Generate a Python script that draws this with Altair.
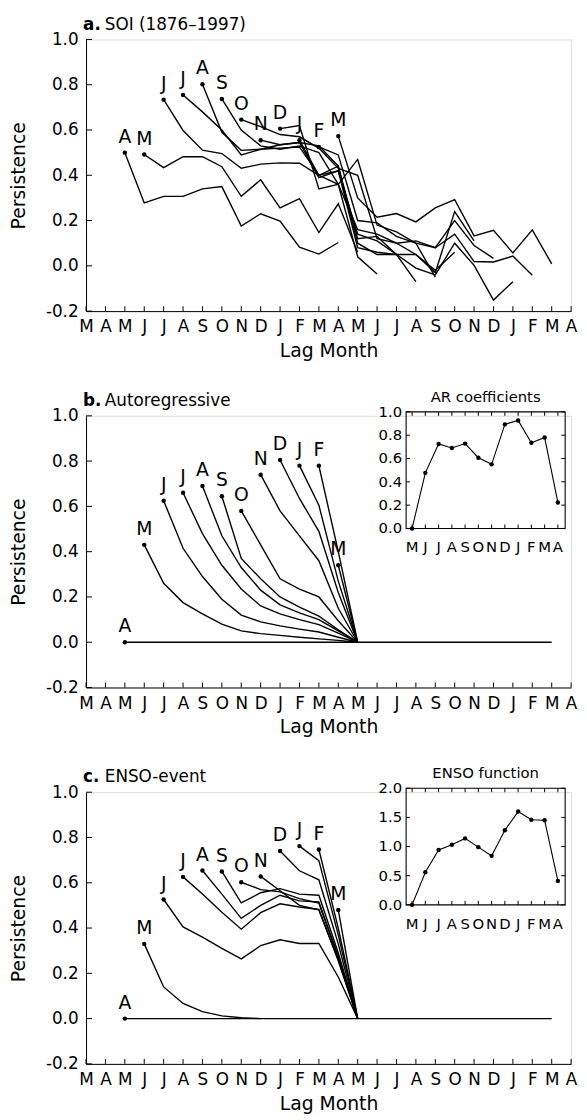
import json
import altair as alt
import pandas as pd

# ---------------- data ----------------
MONTHS = ["M", "A", "M", "J", "J", "A", "S", "O", "N", "D", "J", "F", "M",
          "A", "M", "J", "J", "A", "S", "O", "N", "D", "J", "F", "M", "A"]
Y_TICKS = [-0.2, 0.0, 0.2, 0.4, 0.6, 0.8, 1.0]
START_LABELS = ["A", "M", "J", "J", "A", "S", "O", "N", "D", "J", "F", "M"]
START_POS = [2, 3, 4, 5, 6, 7, 8, 9, 10, 11, 12, 13]

SOI = [
    [0.50, 0.278, 0.307, 0.307, 0.34, 0.35, 0.176, 0.23, 0.198, 0.082, 0.052, 0.103],
    [0.492, 0.434, 0.482, 0.482, 0.438, 0.307, 0.38, 0.256, 0.297, 0.147, 0.274, 0.06],
    [0.734, 0.598, 0.511, 0.496, 0.431, 0.449, 0.455, 0.453, 0.40, 0.36, 0.04, -0.036],
    [0.755, 0.68, 0.60, 0.49, 0.515, 0.535, 0.545, 0.53, 0.44, 0.12, 0.13, 0.05],
    [0.802, 0.59, 0.51, 0.515, 0.52, 0.525, 0.40, 0.42, 0.14, 0.11, 0.05, -0.07],
    [0.737, 0.60, 0.53, 0.515, 0.53, 0.50, 0.36, 0.47, 0.18, 0.15, 0.10, -0.05],
    [0.646, 0.615, 0.58, 0.57, 0.52, 0.43, 0.40, 0.12, 0.10, 0.05, -0.02, 0.06],
    [0.555, 0.535, 0.545, 0.39, 0.42, 0.08, 0.06, 0.05, 0.05, -0.03, 0.24, 0.11],
    [0.606, 0.62, 0.34, 0.36, 0.16, 0.14, 0.10, 0.11, 0.08, 0.20, 0.09, 0.033],
    [0.555, 0.40, 0.44, 0.10, 0.05, 0.05, -0.01, -0.04, 0.10, 0.002, -0.151, -0.07],
    [0.525, 0.49, 0.20, 0.19, 0.13, 0.10, 0.08, 0.14, 0.019, 0.017, 0.043, -0.042],
    [0.573, 0.30, 0.215, 0.231, 0.194, 0.256, 0.292, 0.132, 0.157, 0.057, 0.159, 0.009],
]

AR_LINES = [
    [0.0, 0.0, 0.0, 0.0, 0.0, 0.0, 0.0, 0.0, 0.0, 0.0, 0.0, 0.0,
     0.0, 0.0, 0.0, 0.0, 0.0, 0.0, 0.0, 0.0, 0.0, 0.0, 0.0],
    [0.43, 0.26, 0.175, 0.125, 0.08, 0.05, 0.038, 0.03, 0.022, 0.015, 0.008, 0.0],
    [0.625, 0.415, 0.29, 0.19, 0.12, 0.09, 0.072, 0.058, 0.045, 0.022, 0.0],
    [0.66, 0.48, 0.34, 0.235, 0.16, 0.125, 0.10, 0.078, 0.04, 0.0],
    [0.69, 0.47, 0.33, 0.23, 0.165, 0.13, 0.10, 0.05, 0.0],
    [0.645, 0.37, 0.28, 0.20, 0.155, 0.115, 0.055, 0.0],
    [0.58, 0.43, 0.28, 0.235, 0.20, 0.095, 0.0],
    [0.74, 0.58, 0.47, 0.36, 0.15, 0.0],
    [0.805, 0.635, 0.49, 0.22, 0.0],
    [0.78, 0.605, 0.27, 0.0],
    [0.78, 0.40, 0.0],
    [0.34, 0.0],
]

ENSO_LINES = [
    [0.0, 0.0, 0.0, 0.0, 0.0, 0.0, 0.0, 0.0, 0.0, 0.0, 0.0, 0.0,
     0.0, 0.0, 0.0, 0.0, 0.0, 0.0, 0.0, 0.0, 0.0, 0.0, 0.0],
    [0.33, 0.14, 0.067, 0.031, 0.012, 0.004, 0.0],
    [0.526, 0.405, 0.36, 0.31, 0.264, 0.322, 0.348, 0.332, 0.332, 0.184, 0.0],
    [0.626, 0.55, 0.47, 0.395, 0.468, 0.507, 0.493, 0.482, 0.255, 0.0],
    [0.654, 0.55, 0.443, 0.50, 0.545, 0.52, 0.515, 0.275, 0.0],
    [0.65, 0.511, 0.556, 0.574, 0.55, 0.545, 0.29, 0.0],
    [0.602, 0.57, 0.56, 0.53, 0.51, 0.27, 0.0],
    [0.628, 0.565, 0.50, 0.48, 0.26, 0.0],
    [0.74, 0.653, 0.613, 0.33, 0.0],
    [0.762, 0.698, 0.37, 0.0],
    [0.747, 0.40, 0.0],
    [0.48, 0.0],
]

INSET_MONTHS = ["M", "J", "J", "A", "S", "O", "N", "D", "J", "F", "M", "A"]
AR_COEF = [0.0, 0.477, 0.725, 0.69, 0.728, 0.607, 0.55, 0.893, 0.926, 0.735, 0.78, 0.223]
AR_TICKS = [0.0, 0.2, 0.4, 0.6, 0.8, 1.0]
ENSO_FUNC = [0.0, 0.56, 0.94, 1.03, 1.14, 0.99, 0.84, 1.28, 1.60, 1.46, 1.45, 0.41]
ENSO_TICKS = [0.0, 0.5, 1.0, 1.5, 2.0]

# ---------------- layout / style ----------------
W, H = 491, 275
FONT = "DejaVu Sans"
IX0, IX1, IY0, IY1 = 324, 485, -4, 114

xs = alt.Scale(domain=[0, len(MONTHS) - 1], nice=False, zero=False)
ys = alt.Scale(domain=[Y_TICKS[0], Y_TICKS[-1]], nice=False, zero=False)

x_axis = alt.Axis(
    values=list(range(len(MONTHS))),
    labelExpr=f"{json.dumps(MONTHS)}[datum.value]",
    ticks=False, tickSize=0, labelPadding=8, labelFontSize=17, labelFont=FONT,
    labelColor="black", labelOverlap=False, labelFlush=False, labelBound=False,
    domainColor="black", domainWidth=1, grid=False,
    title="Lag Month", titleFontSize=19, titleFont=FONT, titleFontWeight="normal",
    titleColor="black", titlePadding=7,
)
y_axis = alt.Axis(
    values=Y_TICKS,
    labelExpr="replace(format(datum.value, '.1f'), '\u2212', '-')",
    ticks=False, tickSize=0, labelPadding=8, labelFontSize=17, labelFont=FONT,
    labelColor="black", labelOverlap=False, labelFlush=False, labelBound=False,
    domainColor="black", domainWidth=1, grid=False,
    title="Persistence", titleFontSize=19, titleFont=FONT, titleFontWeight="normal",
    titleColor="black", titlePadding=17,
)


def X(field):
    return alt.X(f"{field}:Q", scale=xs, axis=x_axis)


def Y(field):
    return alt.Y(f"{field}:Q", scale=ys, axis=y_axis)


def long_df(lines):
    rows = []
    for i, (lab, p0, vals) in enumerate(zip(START_LABELS, START_POS, lines)):
        for k, v in enumerate(vals):
            rows.append({"series": i, "pos": p0 + k, "val": v, "lab": lab, "first": k == 0})
    return pd.DataFrame(rows)


def main_layer(lines, bold, rest):
    df = long_df(lines)
    first = df[df["first"]]
    ln = alt.Chart(df).mark_line(color="black", strokeWidth=1.4).encode(
        x=X("pos"), y=Y("val"), detail="series:N")
    dots = alt.Chart(first).mark_circle(color="black", size=20, opacity=1).encode(
        x=X("pos"), y=Y("val"))
    labs = alt.Chart(first).mark_text(
        font=FONT, fontSize=19, baseline="alphabetic", dy=-10, color="black"
    ).encode(x=X("pos"), y=Y("val"), text="lab:N")
    yt = alt.Chart(pd.DataFrame({"v": Y_TICKS})).mark_rule(color="black").encode(
        y=Y("v"), x=alt.value(0), x2=alt.value(6))
    xt = alt.Chart(pd.DataFrame({"p": list(range(len(MONTHS)))})).mark_rule(color="black").encode(
        x=X("p"), y=alt.value(H), y2=alt.value(H - 5))
    t1 = alt.Chart(pd.DataFrame({"t": [bold]})).mark_text(
        font=FONT, fontSize=17, fontWeight="bold", align="left", baseline="alphabetic", color="black"
    ).encode(x=alt.value(-3), y=alt.value(-10), text="t:N")
    t2 = alt.Chart(pd.DataFrame({"t": [rest]})).mark_text(
        font=FONT, fontSize=17, align="left", baseline="alphabetic", color="black"
    ).encode(x=alt.value(19), y=alt.value(-10), text="t:N")
    return alt.layer(ln, dots, labs, yt, xt, t1, t2)


def inset_layer(vals, ticks, title):
    ixs = alt.Scale(domain=[-0.45, len(vals) - 0.45], range=[IX0, IX1], nice=False, zero=False)
    iys = alt.Scale(domain=[ticks[0], ticks[-1]], range=[IY1, IY0], nice=False, zero=False)
    d = pd.DataFrame({"ip": list(range(len(vals))), "iv": vals, "im": INSET_MONTHS})
    t = pd.DataFrame({"tv": ticks, "tl": [f"{v:.1f}" for v in ticks]})

    def IX(f):
        return alt.X(f"{f}:Q", scale=ixs, axis=None)

    def IY(f):
        return alt.Y(f"{f}:Q", scale=iys, axis=None)

    frame = alt.Chart(pd.DataFrame({"a": [0]})).mark_rect(
        fillOpacity=0, stroke="black", strokeWidth=1.1
    ).encode(x=alt.value(IX0), x2=alt.value(IX1), y=alt.value(IY0), y2=alt.value(IY1))
    line = alt.Chart(d).mark_line(color="black", strokeWidth=1.1).encode(x=IX("ip"), y=IY("iv"))
    pts = alt.Chart(d).mark_circle(color="black", size=20, opacity=1).encode(x=IX("ip"), y=IY("iv"))
    xl = alt.Chart(d).mark_text(font=FONT, fontSize=15, baseline="alphabetic", color="black").encode(
        x=IX("ip"), y=alt.value(IY1 + 24), text="im:N")
    yl = alt.Chart(t).mark_text(font=FONT, fontSize=15, align="right", baseline="middle", color="black").encode(
        x=alt.value(IX0 - 4), y=IY("tv"), text="tl:N")
    ytl = alt.Chart(t).mark_rule(color="black").encode(y=IY("tv"), x=alt.value(IX0), x2=alt.value(IX0 + 4))
    ytr = alt.Chart(t).mark_rule(color="black").encode(y=IY("tv"), x=alt.value(IX1 - 4), x2=alt.value(IX1))
    xtb = alt.Chart(d).mark_rule(color="black").encode(x=IX("ip"), y=alt.value(IY1), y2=alt.value(IY1 - 4))
    xtt = alt.Chart(d).mark_rule(color="black").encode(x=IX("ip"), y=alt.value(IY0), y2=alt.value(IY0 + 4))
    ttl = alt.Chart(pd.DataFrame({"t": [title]})).mark_text(
        font=FONT, fontSize=15, baseline="alphabetic", color="black"
    ).encode(x=alt.value((IX0 + IX1) / 2), y=alt.value(IY0 - 10), text="t:N")
    return alt.layer(frame, line, pts, xl, yl, ytl, ytr, xtb, xtt, ttl)


pa = main_layer(SOI, "a.", "SOI (1876\u20131997)").properties(width=W, height=H)
pb = alt.layer(
    main_layer(AR_LINES, "b.", "Autoregressive"),
    inset_layer(AR_COEF, AR_TICKS, "AR coefficients"),
).resolve_scale(x="independent", y="independent").properties(width=W, height=H)
pc = alt.layer(
    main_layer(ENSO_LINES, "c.", "ENSO-event"),
    inset_layer(ENSO_FUNC, ENSO_TICKS, "ENSO function"),
).resolve_scale(x="independent", y="independent").properties(width=W, height=H)

chart = alt.vconcat(pa, pb, pc, spacing=28).properties(
    padding={"left": 1, "top": 0, "right": 1, "bottom": 1}
).configure_view(stroke=None).configure(font=FONT)

chart.save("out.html", embed_options={"renderer": "svg", "actions": False})
